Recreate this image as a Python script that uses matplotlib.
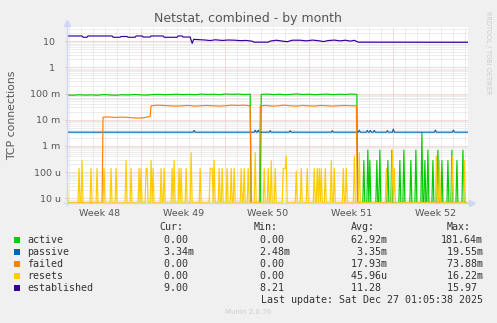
import numpy as np
import matplotlib
matplotlib.use('Agg')
import matplotlib.pyplot as plt
from matplotlib.patches import Rectangle

# x axis: days since Monday 1 Dec 2025 00:00 (start of week 49), 2 h rrd step
T_START = -6.17
T_END = 27.17
STEP = 1 / 12
Y_MIN = 10 ** -5.19
Y_MAX = 10 ** 1.538

WEEK_LABELS = ['Week 48', 'Week 49', 'Week 50', 'Week 51', 'Week 52']
WEEK_CENTERS = [-3.5, 3.5, 10.5, 17.5, 24.5]
WEEK_STARTS = [0, 7, 14, 21]
Y_TICKS = [1e-5, 1e-4, 1e-3, 1e-2, 1e-1, 1, 10]
Y_LABELS = ['10 u', '100 u', '1 m', '10 m', '100 m', '1  ', '10  ']

# established connections (day, value)
EST_T = [-6.17, -4.92, -4.83, -4.5, -4.42, -2.42, -2.33, -1.75, -1.67, -1.17,
         -1.08, -0.5, -0.42, 0.08, 0.17, 0.75, 0.83, 1.83, 1.92, 3.0,
         3.08, 3.42, 3.5, 4.08, 4.25, 4.38, 4.58, 5.33, 5.75, 6.17,
         6.75, 7.25, 7.83, 8.25, 8.75, 9.25, 9.42, 10.58, 10.75, 11.25,
         11.75, 12.17, 12.58, 13.25, 13.75, 14.25, 14.75, 15.17, 15.58, 16.08,
         16.58, 17.0, 17.42, 17.75, 18.08, 27.17]
EST_V = [15.7, 15.7, 14.0, 14.0, 15.7, 15.7, 14.0, 14.0, 15.0, 15.0,
         14.0, 14.0, 15.7, 15.7, 14.3, 14.3, 15.7, 15.7, 14.0, 14.0,
         15.7, 15.7, 14.3, 14.3, 8.2, 11.7, 11.5, 11.0, 10.5, 11.2,
         10.6, 11.0, 10.8, 10.4, 10.6, 9.9, 9.1, 9.1, 10.0, 10.8,
         10.0, 9.5, 10.8, 10.8, 10.2, 10.9, 10.4, 9.6, 10.5, 10.9,
         10.2, 10.8, 10.0, 10.7, 9.1, 9.0]

# active: two plateau segments (start, end, evenly spaced readings), then spikes
ACTIVE_SEG1 = (-6.17, 9.08, [0.088, 0.086, 0.090, 0.087, 0.089, 0.086, 0.091, 0.088,
                             0.086, 0.090, 0.088, 0.092, 0.089, 0.087, 0.091, 0.093,
                             0.090, 0.092, 0.094, 0.091, 0.093, 0.090, 0.095, 0.092,
                             0.094, 0.091, 0.096, 0.093, 0.095, 0.092, 0.094])
ACTIVE_SEG2 = (10.0, 17.96, [0.092, 0.095, 0.091, 0.094, 0.090, 0.093, 0.096, 0.092,
                             0.094, 0.090, 0.093, 0.095, 0.091, 0.094, 0.092, 0.095,
                             0.093])
ACTIVE_SPIKES = [(18.58, 2.78e-4), (18.86, 6.94e-4), (19.08, 2.78e-4), (19.61, 2.78e-4),
                 (19.89, 6.94e-4), (20.58, 2.78e-4), (20.89, 6.94e-4), (21.58, 2.78e-4),
                 (21.86, 6.94e-4), (22.48, 2.78e-4), (22.89, 6.94e-4), (23.39, 3.3e-3),
                 (23.64, 2.78e-4), (23.86, 6.94e-4), (24.33, 2.78e-4), (24.69, 6.94e-4),
                 (25.06, 2.78e-4), (25.58, 2.78e-4), (25.89, 6.94e-4), (26.28, 2.78e-4),
                 (26.83, 6.94e-4)]

# failed: zero at start, then three plateau segments
FAILED_SEG1 = (-3.17, 0.75, [0.0125, 0.0128, 0.0122, 0.0126, 0.0124, 0.0118, 0.0115,
                             0.0120, 0.0135])
FAILED_SEG2 = (0.83, 9.08, [0.034, 0.036, 0.035, 0.034, 0.033, 0.034, 0.035, 0.033,
                            0.034, 0.035, 0.034, 0.033, 0.034, 0.036, 0.035, 0.036,
                            0.034])
FAILED_SEG3 = (9.92, 17.92, [0.034, 0.035, 0.033, 0.034, 0.036, 0.034, 0.033, 0.035,
                             0.034, 0.033, 0.035, 0.034, 0.033, 0.034, 0.035, 0.034,
                             0.034])

PASSIVE_BASE = 3.34e-3
PASSIVE_BUMPS = [(4.42, 3.9e-3), (9.5, 4.0e-3), (9.75, 4.0e-3), (10.75, 3.8e-3),
                 (12.42, 3.8e-3), (15.92, 3.8e-3), (18.17, 4.0e-3), (18.83, 3.9e-3),
                 (19.08, 3.9e-3), (19.42, 3.9e-3), (20.5, 3.8e-3), (21.0, 4.4e-3),
                 (24.5, 4.0e-3), (26.0, 4.0e-3)]

RESETS_SPIKES = [(-6.14, 1.39e-4), (-5.17, 1.39e-4), (-4.94, 2.78e-4), (-4.19, 1.39e-4),
                 (-3.64, 1.39e-4), (-3.08, 1.39e-4), (-2.53, 1.39e-4), (-2.11, 1.39e-4),
                 (-1.23, 2.78e-4), (-0.86, 1.39e-4), (-0.17, 1.39e-4), (0.03, 1.39e-4),
                 (0.39, 1.39e-4), (0.47, 1.39e-4), (0.86, 2.78e-4), (1.03, 1.39e-4),
                 (1.64, 1.39e-4), (1.92, 1.39e-4), (2.56, 1.39e-4), (2.75, 2.78e-4),
                 (3.17, 1.39e-4), (3.31, 1.39e-4), (3.78, 1.39e-4), (4.14, 5.56e-4),
                 (4.89, 1.39e-4), (5.75, 1.39e-4), (5.83, 1.39e-4), (5.92, 1.39e-4),
                 (6.08, 2.78e-4), (6.5, 1.39e-4), (6.78, 1.39e-4), (7.19, 1.39e-4),
                 (7.47, 1.39e-4), (7.75, 1.39e-4), (8.31, 1.39e-4), (8.58, 1.39e-4),
                 (8.94, 1.39e-4), (9.5, 5.56e-4), (10.25, 1.39e-4), (10.58, 1.39e-4),
                 (10.81, 2.78e-4), (11.17, 1.39e-4), (11.83, 1.39e-4), (11.92, 1.39e-4),
                 (12.0, 1.39e-4), (12.11, 4.17e-4), (12.89, 1.1e-4), (13.36, 1.39e-4),
                 (13.86, 1.39e-4), (14.42, 1.39e-4), (14.64, 1.39e-4), (14.83, 1.39e-4),
                 (15.03, 1.39e-4), (15.33, 1.39e-4), (15.86, 2.78e-4), (16.08, 1.39e-4),
                 (16.86, 1.39e-4), (17.11, 1.39e-4), (17.75, 4.17e-4), (18.17, 5.56e-4),
                 (20.39, 1.39e-4), (20.94, 6.94e-4), (21.08, 1.39e-4), (24.56, 4.17e-4),
                 (24.83, 2.78e-4), (25.94, 4.17e-4), (26.92, 2.78e-4)]

SERIES = ['active', 'passive', 'failed', 'resets', 'established']
COLORS = ['#00CC00', '#0066B3', '#FF8000', '#FFCC00', '#330099']
LEG_CUR = [0.0, 3.34e-3, 0.0, 0.0, 9.00]
LEG_MIN = [0.0, 2.48e-3, 0.0, 0.0, 8.21]
LEG_AVG = [62.92e-3, 3.35e-3, 17.93e-3, 45.96e-6, 11.28]
LEG_MAX = [181.64e-3, 19.55e-3, 73.88e-3, 16.22e-3, 15.97]

FLOOR = 10 ** -5.17  # rrdtool draws values under the minimum on the bottom edge


def seg(segment):
    t0, t1, vals = segment
    return list(np.linspace(t0, t1, len(vals))), list(vals)


def spike_series(t0, t1, spikes, base=0.0):
    t = np.arange(t0, t1 + STEP / 2, STEP)
    v = np.full_like(t, base)
    for ts, vs in spikes:
        v[np.argmin(np.abs(t - ts))] = vs
    return list(t), list(v)


def si(v):
    if v == 0:
        return f'{0:6.2f} '
    for scale, suf in [(1, ' '), (1e-3, 'm'), (1e-6, 'u')]:
        if abs(v) >= scale:
            return f'{v / scale:6.2f}{suf}'
    return f'{v:6.2f} '


# assemble series
a1t, a1v = seg(ACTIVE_SEG1)
a2t, a2v = seg(ACTIVE_SEG2)
a3t, a3v = spike_series(18.04, T_END, ACTIVE_SPIKES)
active_t = a1t + [9.16, 9.92] + a2t + a3t
active_v = a1v + [0, 0] + a2v + a3v

f1t, f1v = seg(FAILED_SEG1)
f2t, f2v = seg(FAILED_SEG2)
f3t, f3v = seg(FAILED_SEG3)
failed_t = [T_START, -3.25] + f1t + f2t + [9.16, 9.84] + f3t + [18.0, T_END]
failed_v = [0, 0] + f1v + f2v + [0, 0] + f3v + [0, 0]

passive_t, passive_v = spike_series(T_START, T_END, PASSIVE_BUMPS, PASSIVE_BASE)
resets_t, resets_v = spike_series(T_START, T_END, RESETS_SPIKES)

data = {
    'active': (active_t, active_v),
    'passive': (passive_t, passive_v),
    'failed': (failed_t, failed_v),
    'resets': (resets_t, resets_v),
    'established': (EST_T, EST_V),
}

W, H = 497, 323
fig = plt.figure(figsize=(W / 100, H / 100), dpi=100, facecolor='#F0F0F0')
ax = fig.add_axes([67 / W, 1 - 203.3 / H, 400.5 / W, 176.3 / H])
ax.set_facecolor('white')
ax.set_yscale('log')
ax.set_xlim(T_START, T_END)
ax.set_ylim(Y_MIN, Y_MAX)
for s in ax.spines.values():
    s.set_visible(False)

# grid like rrdtool: dotted, minor grey, major red
dots = (0, (1, 1))
major_col = '#F4B4B4'
minor_col = '#DCDCDC'
for d in range(-6, 28):
    major = d in WEEK_STARTS
    ax.axvline(d, color=major_col if major else minor_col, lw=0.72, ls=dots, zorder=0)
for e in range(-6, 2):
    for k in range(1, 10):
        y = k * 10.0 ** e
        if Y_MIN < y < Y_MAX:
            ax.axhline(y, color=major_col if k == 1 else minor_col, lw=0.72, ls=dots, zorder=0)

for name, color in zip(SERIES, COLORS):
    t, v = data[name]
    ax.plot(t, np.maximum(v, FLOOR), color=color, lw=0.85, zorder=2)

ax.set_yticks(Y_TICKS, Y_LABELS)
ax.minorticks_off()
ax.set_xticks(WEEK_CENTERS, WEEK_LABELS)
ax.tick_params(axis='y', length=1.5, color=major_col, pad=3.0, labelsize=6.8, labelcolor='#555555')
ax.tick_params(axis='x', length=0, pad=4.0, labelsize=6.8, labelcolor='#555555')

# axes with arrows
axis_col = '#CFD6F8'
ax.plot([0, 0], [-0.01, 1.025], transform=ax.transAxes, color=axis_col, lw=1, clip_on=False, zorder=3)
ax.plot([0], [1.025], transform=ax.transAxes, marker='^', ms=5, color=axis_col, clip_on=False, zorder=3)
ax.plot([-0.008, 1.01], [0, 0], transform=ax.transAxes, color=axis_col, lw=1, clip_on=False, zorder=3)
ax.plot([1.01], [0], transform=ax.transAxes, marker='>', ms=5, color=axis_col, clip_on=False, zorder=3)


def fx(x):
    return x / W


def fy(y):
    return 1 - y / H


fig.text(fx(247.5), fy(18.5), 'Netstat, combined - by month', ha='center', va='center',
         fontsize=9, color='#555555')
fig.text(fx(12), fy(115), 'TCP connections', rotation=90, ha='center', va='center',
         fontsize=7.8, color='#555555')
fig.text(fx(488), fy(53), 'RRDTOOL / TOBI OETIKER', rotation=270, ha='center', va='center',
         fontsize=4.7, color='#CCCCCC')

mono = dict(family='DejaVu Sans Mono', fontsize=7.2, color='#333333', va='center')
for head, x in zip(['Cur:', 'Min:', 'Avg:', 'Max:'], [159, 254, 351, 447]):
    fig.text(fx(x), fy(227), head, **mono)
row_y = [240, 252, 264, 276, 288]
for i, name in enumerate(SERIES):
    y = row_y[i]
    fig.patches.append(Rectangle((fx(14), fy(y + 3)), 6 / W, 6 / H, transform=fig.transFigure,
                                 facecolor=COLORS[i], edgecolor='none'))
    fig.text(fx(27), fy(y), name, **mono)
    for vals, x in zip([LEG_CUR, LEG_MIN, LEG_AVG, LEG_MAX], [152, 248, 345, 441]):
        fig.text(fx(x), fy(y), si(vals[i]), **mono)
fig.text(fx(483), fy(300), 'Last update: Sat Dec 27 01:05:38 2025', ha='right', **mono)
fig.text(fx(248), fy(312), 'Munin 2.0.76', ha='center', va='center', fontsize=5, color='#CCCCCC')

fig.savefig('out.png', dpi=100, facecolor=fig.get_facecolor())
